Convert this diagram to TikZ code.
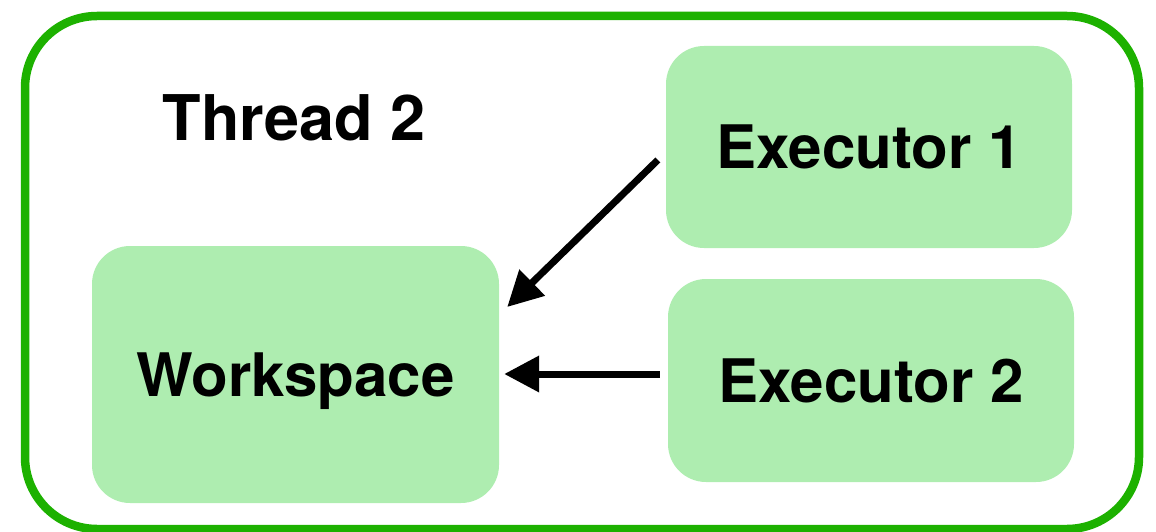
\documentclass[tikz,border=0pt]{standalone}
\usepackage{fontspec}
\setmainfont{TeX Gyre Heros}
\usetikzlibrary{arrows.meta,calc}
\definecolor{framegreen}{RGB}{29,177,0}
\definecolor{boxgreen}{RGB}{174,237,176}
\tikzset{
  frame/.style={draw=framegreen, line width=8.5pt, rounded corners=72pt},
  unit/.style={rectangle, fill=boxgreen, rounded corners=38pt, inner sep=0pt,
    minimum width=406pt, minimum height=202pt,
    font=\fontsize{60}{70}\selectfont\bfseries, text height=43pt, text depth=0pt},
  title/.style={font=\fontsize{63}{72}\selectfont\bfseries, inner sep=0pt,
    text height=45pt, text depth=0pt},
  feed/.style={line width=7pt, -{Triangle[length=35pt,width=35pt]}}
}
\begin{document}
\begin{tikzpicture}[x=1pt, y=-1pt]
  \useasboundingbox (0,0) rectangle (1156,532);
  % thread container
  \draw[frame] (25,16) rectangle (1139,529);
  \node[title] (thread) at (294,118) {Thread 2};
  % components
  \node[unit, minimum width=407pt, minimum height=257pt] (ws) at (295.5,374.5) {Workspace};
  \node[unit] (e1) at (869,147) {Executor 1};
  \node[unit, minimum height=203pt] (e2) at (871,380.5) {Executor 2};
  % executors feeding the workspace
  \draw[feed] ($(e1.west)+(-8,13)$) -- ($(ws.east)+(8,-67.5)$);
  \draw[feed] ($(e2.west)+(-8,-6.5)$) -- ($(ws.east)+(5,-0.5)$);
\end{tikzpicture}
\end{document}
